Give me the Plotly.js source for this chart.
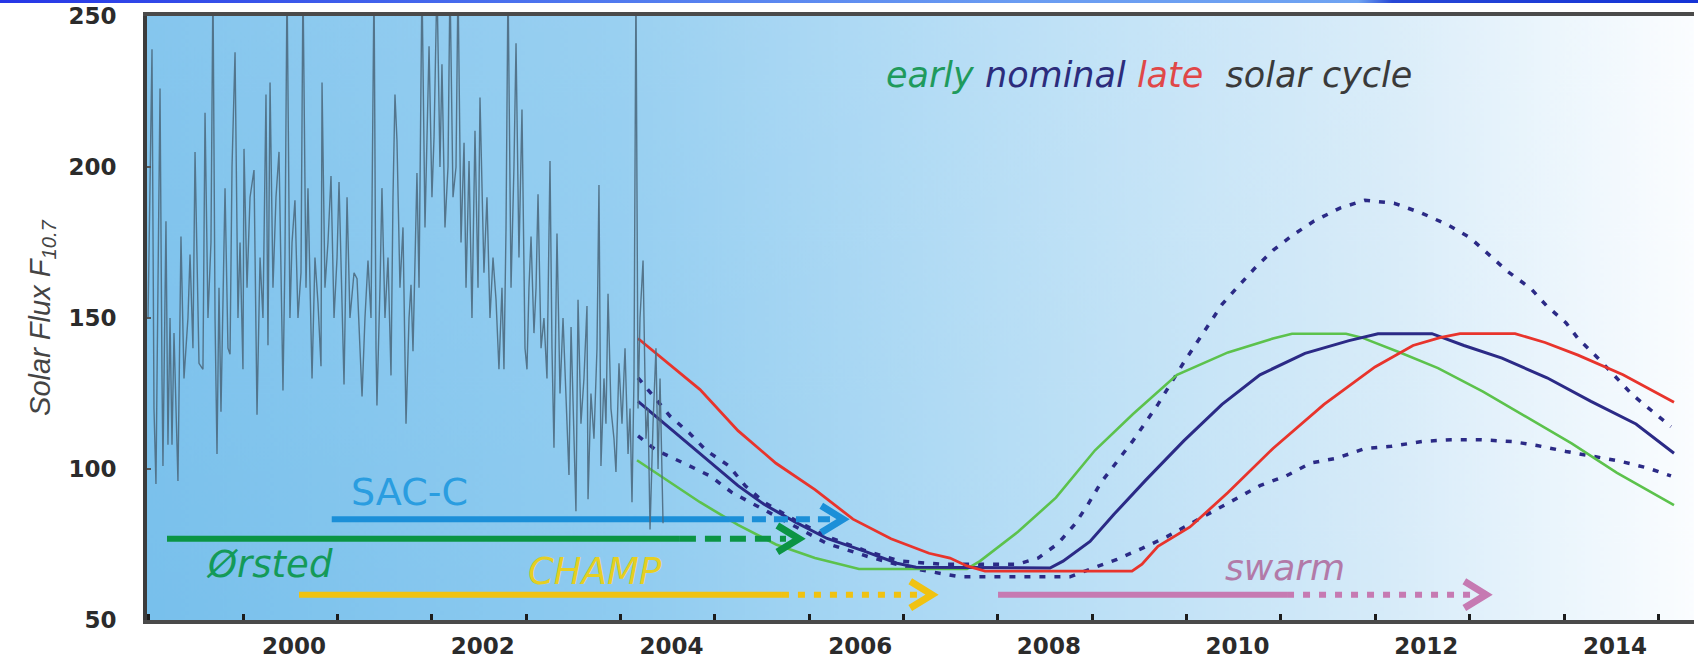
<!DOCTYPE html>
<html>
<head>
<meta charset="utf-8">
<script src="https://cdn.plot.ly/plotly-3.0.1.min.js"></script>
<style>
  html, body { margin: 0; padding: 0; background: #ffffff; }
  #wrap { position: relative; width: 1698px; height: 660px; }
  #topbar { position: absolute; left: 0; top: 0; width: 1698px; height: 3px; z-index: 10;
    background: linear-gradient(90deg, #2636e6 0%, #4a70ee 30%, #6a9cf2 60%, #6fa3f2 80%, #2747d6 82%, #1533d6 100%); }
  #chart { width: 1698px; height: 660px; }
</style>
</head>
<body>
<div id="wrap"><div id="topbar"></div><div id="chart"></div></div>
<script>
// ---------------- data ----------------
// observed F10.7 solar flux (decimal years)
const obsYear = [1998.453,1998.474,1998.495,1998.516,1998.537,1998.558,1998.580,1998.601,1998.611,1998.643,1998.664,1998.686,1998.707,1998.728,1998.770,1998.802,1998.834,1998.876,1998.898,1998.929,1998.951,1998.993,1999.035,1999.057,1999.088,1999.120,1999.141,1999.163,1999.184,1999.205,1999.226,1999.269,1999.300,1999.322,1999.343,1999.375,1999.406,1999.428,1999.459,1999.470,1999.502,1999.534,1999.576,1999.608,1999.640,1999.671,1999.703,1999.724,1999.746,1999.777,1999.809,1999.841,1999.883,1999.904,1999.926,1999.957,1999.979,2000.010,2000.042,2000.074,2000.095,2000.127,2000.148,2000.191,2000.222,2000.254,2000.286,2000.297,2000.328,2000.360,2000.392,2000.424,2000.456,2000.477,2000.509,2000.530,2000.562,2000.593,2000.636,2000.668,2000.699,2000.721,2000.752,2000.784,2000.816,2000.848,2000.869,2000.879,2000.911,2000.932,2000.964,2000.996,2001.028,2001.049,2001.070,2001.091,2001.123,2001.155,2001.187,2001.219,2001.240,2001.261,2001.303,2001.325,2001.356,2001.388,2001.431,2001.462,2001.484,2001.515,2001.547,2001.568,2001.600,2001.632,2001.653,2001.685,2001.717,2001.738,2001.770,2001.802,2001.823,2001.855,2001.886,2001.918,2001.950,2001.971,2002.013,2002.045,2002.077,2002.109,2002.141,2002.172,2002.204,2002.225,2002.247,2002.268,2002.300,2002.331,2002.353,2002.384,2002.416,2002.448,2002.469,2002.490,2002.512,2002.543,2002.565,2002.586,2002.618,2002.649,2002.681,2002.713,2002.734,2002.755,2002.787,2002.819,2002.851,2002.883,2002.914,2002.936,2002.967,2002.988,2003.010,2003.041,2003.073,2003.105,2003.116,2003.147,2003.179,2003.211,2003.232,2003.253,2003.285,2003.306,2003.328,2003.359,2003.391,2003.412,2003.444,2003.476,2003.508,2003.540,2003.561,2003.582,2003.603,2003.624,2003.646,2003.667,2003.699,2003.730,2003.752,2003.773,2003.805,2003.836,2003.858,2003.879,2003.911];
const obsFlux = [150,195,239,120,95,160,226,130,101,182,108,150,108,145,96,177,130,150,171,140,205,135,133,218,150,175,262,150,105,160,119,193,140,138,200,238,150,175,133,206,160,190,199,118,170,150,224,141,228,160,190,205,126,170,262,150,175,189,150,165,262,160,193,130,170,155,134,228,160,175,197,150,170,195,150,128,190,150,165,163,140,124,150,169,150,262,140,121,160,193,150,170,131,190,224,209,160,180,115,150,161,139,198,160,262,180,240,190,210,262,200,234,180,200,262,190,200,262,175,208,160,202,150,212,160,223,165,190,150,170,156,133,160,133,180,262,160,200,241,170,219,140,133,160,177,145,160,191,140,150,130,202,140,107,178,125,150,120,98,147,110,86,156,115,130,154,90,125,110,140,194,101,130,115,158,120,110,99,135,115,140,105,120,89,130,262,120,150,169,110,120,80,115,140,100,130,82];

// predicted solar cycle: late (red)
const lateYear = [2003.646,2004.303,2004.705,2005.108,2005.521,2005.924,2006.327,2006.730,2006.952,2007.132,2007.323,2008.881,2008.987,2009.156,2009.496,2009.898,2010.375,2010.916,2011.456,2011.859,2012.145,2012.357,2012.940,2013.258,2013.608,2014.085,2014.625];
const lateFlux = [143.2,126.3,112.7,101.9,93.2,83.4,76.9,72.1,70.5,67.9,66.2,66.2,68.5,74.4,80.8,92.2,106.8,121.4,133.8,140.9,143.5,144.8,144.8,141.9,137.7,131.2,122.1];

// nominal (navy)
const nominalYear = [2003.646,2004.303,2004.705,2004.981,2005.309,2005.649,2006.051,2006.390,2006.592,2008.012,2008.150,2008.436,2008.690,2009.029,2009.432,2009.835,2010.237,2010.714,2011.181,2011.488,2012.060,2012.399,2012.802,2013.279,2013.745,2014.222,2014.625];
const nominalFlux = [122.4,105.2,94.5,88.3,82.5,77.0,72.7,68.8,67.5,67.2,69.5,76.0,85.0,96.4,109.4,121.4,131.2,138.3,142.5,144.8,144.8,140.9,136.7,130.2,122.4,114.9,105.2];

// early (green)
const earlyYear = [2003.635,2004.303,2004.705,2005.108,2005.521,2005.988,2007.132,2007.270,2007.673,2008.075,2008.489,2008.892,2009.358,2009.898,2010.375,2010.577,2011.149,2011.318,2011.721,2012.124,2012.601,2013.067,2013.544,2014.021,2014.625];
const earlyFlux = [102.9,89.0,81.5,75.0,70.5,66.9,66.9,69.5,79.2,90.5,106.2,118.2,131.2,138.6,143.2,144.8,144.8,143.5,138.6,133.4,125.6,117.2,108.4,98.7,88.0];

// nominal upper bound (dashed navy)
const upperYear = [2003.646,2003.815,2003.985,2004.197,2004.366,2004.610,2004.780,2004.981,2005.309,2005.649,2006.051,2006.422,2006.846,2007.673,2007.885,2008.097,2008.277,2008.415,2008.552,2008.892,2009.156,2009.432,2009.697,2009.835,2010.004,2010.174,2010.375,2010.577,2010.810,2011.085,2011.350,2011.658,2011.954,2012.230,2012.463,2012.664,2012.866,2013.110,2013.279,2013.481,2013.608,2013.820,2014.180,2014.392,2014.593];
const upperFlux = [130.2,123.7,117.5,111.7,106.2,101.0,94.5,89.0,83.1,77.6,73.0,69.5,68.5,68.5,70.5,75.3,81.8,88.3,95.5,109.4,121.4,135.4,148.0,154.5,160.4,166.2,172.4,177.3,182.1,186.4,189.0,188.0,184.7,180.8,176.6,170.8,165.3,159.7,153.9,148.4,143.2,136.7,124.7,119.2,114.0];

// nominal lower bound (dashed navy)
const lowerYear = [2003.646,2003.836,2004.175,2004.409,2004.642,2004.981,2005.309,2005.649,2006.104,2006.528,2007.058,2008.224,2008.468,2008.722,2008.987,2009.252,2009.496,2009.972,2010.237,2010.513,2010.778,2011.054,2011.350,2011.626,2011.954,2012.262,2012.569,2012.908,2013.173,2013.481,2013.745,2014.053,2014.350,2014.593];
const lowerFlux = [111.0,106.2,101.3,97.7,92.2,86.4,80.8,75.3,70.8,67.2,64.3,64.3,67.2,70.1,73.7,77.6,81.8,89.9,94.5,97.7,102.0,103.6,106.8,107.5,109.1,109.7,109.7,109.1,107.8,105.8,104.2,102.6,100.3,97.7];

// satellite missions: start, end of confirmed operation, end of extended operation, flux level of bar
const missionNames = ['SAC-C', 'Ørsted', 'CHAMP', 'swarm'];
const missionStart = [2000.40, 1998.654, 2000.053, 2007.461];
const missionSolidEnd = [2004.62, 2004.09, 2005.171, 2010.524];
const missionArrowEnd = [2005.818, 2005.352, 2006.761, 2012.633];
const missionLevel = [83.4, 76.9, 58.4, 58.4];

const xTickYears = [2000, 2002, 2004, 2006, 2008, 2010, 2012, 2014];
const yTickValues = [50, 100, 150, 200, 250];

// ---------------- styles ----------------
const missionColors = ['#1b8fd8', '#0b9444', '#f0c212', '#c67ab2'];
const missionDash = ['14px,8px', '16px,9px', '7px,9px', '7px,9px'];
const chevronDX = 0.23, chevronDY = 4.4;

// background gradient as layout image
function makeBg() {
  const c = document.createElement('canvas');
  c.width = 800; c.height = 300;
  const g = c.getContext('2d');
  const lg = g.createLinearGradient(0, 0, 800, 0);
  lg.addColorStop(0.0, '#78c0ec');
  lg.addColorStop(0.30, '#8ecbf0');
  lg.addColorStop(0.55, '#b3dcf5');
  lg.addColorStop(0.80, '#d6ebf9');
  lg.addColorStop(0.93, '#eef7fd');
  lg.addColorStop(1.0, '#fbfdff');
  g.fillStyle = lg; g.fillRect(0, 0, 800, 300);
  const vg = g.createLinearGradient(0, 0, 0, 300);
  vg.addColorStop(0, 'rgba(255,255,255,0.10)');
  vg.addColorStop(1, 'rgba(255,255,255,0.0)');
  g.fillStyle = vg; g.fillRect(0, 0, 800, 300);
  return c.toDataURL('image/png');
}

const traces = [];
// predicted curves
traces.push({x: upperYear, y: upperFlux, mode: 'lines', line: {color: '#2b2a86', width: 3.5, dash: '6px,9px'}});
traces.push({x: lowerYear, y: lowerFlux, mode: 'lines', line: {color: '#2b2a86', width: 3.5, dash: '6px,9px'}});
traces.push({x: earlyYear, y: earlyFlux, mode: 'lines', line: {color: '#5cc24c', width: 2.6}});
traces.push({x: nominalYear, y: nominalFlux, mode: 'lines', line: {color: '#2b2a86', width: 3}});
traces.push({x: lateYear, y: lateFlux, mode: 'lines', line: {color: '#e8342c', width: 2.8}});

// mission bars
for (let i = 0; i < missionNames.length; i++) {
  const lvl = missionLevel[i];
  traces.push({x: [missionStart[i], missionSolidEnd[i]], y: [lvl, lvl], mode: 'lines',
    line: {color: missionColors[i], width: 6}});
  traces.push({x: [missionSolidEnd[i], missionArrowEnd[i] - chevronDX * 0.6], y: [lvl, lvl], mode: 'lines',
    line: {color: missionColors[i], width: 6, dash: missionDash[i]}});
  traces.push({x: [missionArrowEnd[i] - chevronDX, missionArrowEnd[i], missionArrowEnd[i] - chevronDX],
    y: [lvl + chevronDY, lvl, lvl - chevronDY], mode: 'lines',
    line: {color: missionColors[i], width: 7}});
}

// observed flux
traces.push({x: obsYear, y: obsFlux, mode: 'lines', line: {color: '#4c6a80', width: 1.4}, opacity: 0.9});

const tickFont = {family: 'DejaVu Sans', size: 23, weight: 'bold', color: '#2b2b2b'};

const layout = {
  width: 1698, height: 660,
  margin: {l: 147, r: 4, t: 16, b: 40},
  paper_bgcolor: '#ffffff',
  plot_bgcolor: '#a8d4f2',
  showlegend: false,
  images: [{source: makeBg(), xref: 'paper', yref: 'paper', x: 0, y: 1, sizex: 1, sizey: 1,
    sizing: 'stretch', layer: 'below'}],
  xaxis: {
    range: [1998.442, 2014.837],
    tickmode: 'array', tickvals: xTickYears, ticktext: xTickYears.map(String),
    ticks: '', tickfont: tickFont, ticklabelstandoff: 2,
    minor: {tickmode: 'linear', tick0: 1999.46, dtick: 1, ticks: 'inside', ticklen: 6, tickwidth: 3, tickcolor: '#1c1c1c', showgrid: false},
    showgrid: false, zeroline: false,
    showline: true, linecolor: '#4a4a4a', linewidth: 4, mirror: true
  },
  yaxis: {
    range: [50, 250],
    tickmode: 'array', tickvals: yTickValues, ticktext: yTickValues.map(String),
    ticks: 'inside', ticklen: 4, tickwidth: 2, tickcolor: '#555555',
    tickfont: tickFont, ticklabelstandoff: 22,
    showgrid: false, zeroline: false,
    showline: true, linecolor: '#3c3c3c', linewidth: 4,
    title: {text: 'Solar Flux F<sub>10.7</sub>', standoff: 10,
      font: {family: 'Liberation Sans', size: 29, style: 'italic', color: '#444444'}}
  },
  annotations: [
    {xref: 'paper', yref: 'paper', x: 0.648, y: 0.902, showarrow: false, xanchor: 'center', yanchor: 'middle',
      font: {family: 'DejaVu Sans', size: 35, style: 'italic'},
      text: '<span style="color:#1f9a5c">early</span> <span style="color:#2c2c7c">nominal</span> <span style="color:#e04848">late</span>  <span style="color:#3a3a3a">solar cycle</span>'},
    {xref: 'paper', yref: 'paper', x: 0.1694, y: 0.212, showarrow: false, xanchor: 'center', yanchor: 'middle',
      font: {family: 'DejaVu Sans', size: 38, color: '#2a9de0'}, text: 'SAC-C'},
    {xref: 'paper', yref: 'paper', x: 0.0789, y: 0.0927, showarrow: false, xanchor: 'center', yanchor: 'middle',
      font: {family: 'DejaVu Sans', size: 37, style: 'italic', color: '#149a58'}, text: 'Ørsted'},
    {xref: 'paper', yref: 'paper', x: 0.2896, y: 0.0795, showarrow: false, xanchor: 'center', yanchor: 'middle',
      font: {family: 'DejaVu Sans', size: 37, style: 'italic', color: '#e5cf22'}, text: 'CHAMP'},
    {xref: 'paper', yref: 'paper', x: 0.7356, y: 0.0861, showarrow: false, xanchor: 'center', yanchor: 'middle',
      font: {family: 'DejaVu Sans', size: 36, style: 'italic', color: '#b27aa8'}, text: 'swarm'}
  ]
};

if (obsYear.length !== obsFlux.length) console.error('obs length mismatch', obsYear.length, obsFlux.length);

Plotly.newPlot('chart', traces, layout, {staticPlot: true, displayModeBar: false});
</script>
</body>
</html>
